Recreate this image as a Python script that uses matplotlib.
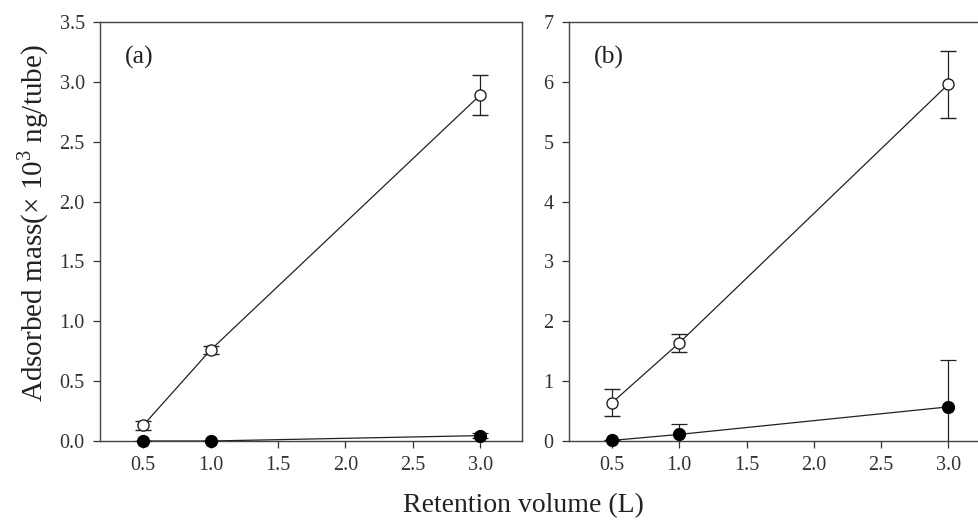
import matplotlib
matplotlib.use("Agg")
import matplotlib.pyplot as plt

plt.rcParams['font.family'] = ['Liberation Serif', 'DejaVu Serif']
plt.rcParams['mathtext.fontset'] = 'custom'
plt.rcParams['mathtext.rm'] = 'Liberation Serif'

volume = [0.5, 1.0, 3.0]

# panel (a)
a_open = [0.13, 0.76, 2.89]
a_open_err = [0.04, 0.03, 0.17]
a_filled = [0.0, 0.0, 0.045]
a_filled_err = [0.0, 0.0, 0.02]

# panel (b)
b_open = [0.64, 1.64, 5.96]
b_open_err = [0.23, 0.15, 0.56]
b_filled = [0.01, 0.11, 0.57]
b_filled_err = [0.0, 0.18, 0.78]

xticks = [0.5, 1.0, 1.5, 2.0, 2.5, 3.0]
a_yticks = [0.0, 0.5, 1.0, 1.5, 2.0, 2.5, 3.0, 3.5]
b_yticks = [0, 1, 2, 3, 4, 5, 6, 7]

W, H = 979, 521
fig = plt.figure(figsize=(W / 100, H / 100), dpi=100)
ax_a = fig.add_axes([100 / W, (H - 441) / H, 422 / W, 419 / H])
ax_b = fig.add_axes([569 / W, (H - 441) / H, 421 / W, 419 / H])

INK = '#222222'

def draw(ax, o, oe, f, fe, ylim, yticks, fmt, label):
    ax.errorbar(volume, o, yerr=oe, color=INK, lw=0.9, marker='o', ms=8,
                mfc='white', mec=INK, mew=1.0, capsize=5.5, elinewidth=0.9,
                capthick=0.9, zorder=3)
    ax.errorbar(volume, f, yerr=fe, color=INK, lw=0.9, fmt='-',
                capsize=5.5, elinewidth=0.9, capthick=0.9, zorder=4)
    ax.plot(volume, f, linestyle='none', marker='o', ms=8.5, mfc='black',
            mec='black', zorder=5, clip_on=False)
    ax.set_xlim(0.18, 3.31)
    ax.set_ylim(*ylim)
    ax.set_xticks(xticks)
    ax.set_xticklabels([f"{t:.1f}" for t in xticks])
    ax.set_yticks(yticks)
    ax.set_yticklabels([fmt.format(t) for t in yticks])
    ax.tick_params(direction='out', length=5, width=0.9, labelsize=14.5,
                   colors='#333333', top=False, right=False, pad=6)
    for s in ax.spines.values():
        s.set_linewidth(1.0)
        s.set_color('#444444')
    ax.text(0.06, 0.915, label, transform=ax.transAxes, fontsize=18.5,
            va='center', ha='left', color=INK)

draw(ax_a, a_open, a_open_err, a_filled, a_filled_err, (0, 3.5), a_yticks, "{:.1f}", "(a)")
draw(ax_b, b_open, b_open_err, b_filled, b_filled_err, (0, 7), b_yticks, "{:.0f}", "(b)")

fig.text(0.034, 0.572, r"Adsorbed mass($\times$ 10$^{3}$ ng/tube)", rotation=90,
         fontsize=21, ha='center', va='center', color=INK)
fig.text(0.535, 0.03, "Retention volume (L)", fontsize=20, ha='center', va='center',
         color=INK)

fig.savefig("out.png", dpi=100)
